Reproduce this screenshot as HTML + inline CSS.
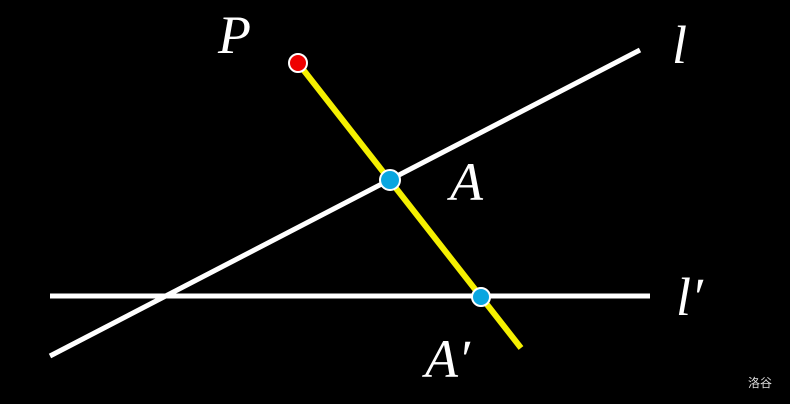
<!DOCTYPE html>
<html><head><style>
html,body{margin:0;padding:0;background:#000;}
svg{display:block}
</style></head><body>
<svg width="790" height="404" viewBox="0 0 790 404" xmlns="http://www.w3.org/2000/svg">
<rect width="790" height="404" fill="#000"/>
<line x1="50" y1="356" x2="640" y2="50" stroke="#fff" stroke-width="5"/>
<line x1="50" y1="296" x2="650" y2="296" stroke="#fff" stroke-width="5"/>
<line x1="298" y1="63" x2="521" y2="348" stroke="#f5f000" stroke-width="6"/>
<circle cx="298" cy="63" r="9" fill="#e00" stroke="#fff" stroke-width="2"/>
<circle cx="390" cy="180" r="10" fill="#0aa6e0" stroke="#fff" stroke-width="2"/>
<circle cx="481" cy="297" r="9" fill="#0aa6e0" stroke="#fff" stroke-width="2"/>
<g font-family="Liberation Serif, serif" font-style="italic" fill="#fff" font-size="54">
<text x="218" y="53">P</text>
<text x="672" y="63">l</text>
<text x="450" y="200">A</text>
<text x="676" y="315">l′</text>
<text x="425" y="377">A′</text>
</g>
<text x="748" y="387" font-family="Liberation Sans, Noto Sans CJK SC, sans-serif" font-size="12" fill="#ddd">洛谷</text>
</svg>
</body></html>
